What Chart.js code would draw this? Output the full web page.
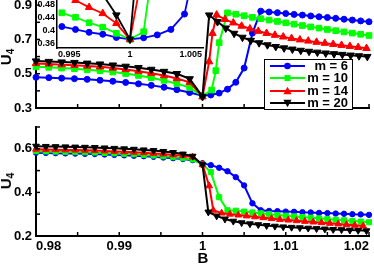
<!DOCTYPE html>
<html><head><meta charset="utf-8">
<script src="https://cdn.jsdelivr.net/npm/chart.js@4.4.1/dist/chart.umd.min.js"></script>
<style>
html,body{margin:0;padding:0;background:#fff;}
#wrap{position:relative;width:374px;height:264px;overflow:hidden;font-family:"Liberation Sans",Arial,Helvetica,sans-serif;font-weight:bold;color:#000;background:#fff;}
canvas{position:absolute;}
.ylab{position:absolute;font-size:15px;white-space:nowrap;transform:translate(-50%,-50%) rotate(-90deg);line-height:15px;}
.ylab sub{font-size:10px;vertical-align:-3px;}
#xlab{position:absolute;font-size:15px;transform:translate(-50%,-50%);line-height:15px;}
#legend{position:absolute;left:264px;top:59px;width:87px;height:49px;border:1px solid #000;background:#fff;}
#legend .row{position:absolute;left:0;width:87px;height:12px;}
#legend svg{position:absolute;left:5px;top:0;}
#legend span{position:absolute;right:4px;top:0;font-size:13px;line-height:12px;}
</style></head>
<body><div id="wrap">
<canvas id="cTop" width="374" height="125" style="left:0;top:0"></canvas>
<canvas id="cBot" width="374" height="144" style="left:0;top:120px"></canvas>
<canvas id="cIns" width="180" height="62" style="left:30px;top:0"></canvas>
<div id="legend"></div>
<div class="ylab" style="left:8px;top:57px">U<sub>4</sub></div>
<div class="ylab" style="left:8px;top:181px">U<sub>4</sub></div>
<div id="xlab" style="left:203px;top:257px">B</div>
</div>
<script>
// ---------- series labels ----------
const seriesLabels = ['m = 6', 'm = 10', 'm = 14', 'm = 20'];

// ---------- tick values / labels ----------
const xTicks = [0.98, 0.985, 0.99, 0.995, 1.0, 1.005, 1.01, 1.015, 1.02];
const xTickLabels = ['0.98', '', '0.99', '', '1', '', '1.01', '', '1.02'];
const topYTicks = [0.3, 0.4, 0.5, 0.6, 0.7, 0.8, 0.9];
const topYLabels = ['0.3', '', '0.5', '', '0.7', '', '0.9'];
const botYTicks = [0.2, 0.3, 0.4, 0.5, 0.6, 0.7];
const botYLabels = ['0.2', '', '0.4', '', '0.6', ''];
const insXTicks = [0.995, 1.0, 1.005];
const insXLabels = ['0.995', '1', '1.005'];
const insYTicks = [0.36, 0.40, 0.44, 0.48];
const insYLabels = ['0.36', '0.4', '0.44', '0.48'];

// ---------- top panel data ----------
const topBLeft = [0.98, 0.98154, 0.98308, 0.98462, 0.98615, 0.98769, 0.98923, 0.99077, 0.99231, 0.99385, 0.99538, 0.99692, 0.99846];
const top6B = [1.000, 1.001, 1.002, 1.003, 1.004, 1.005, 1.006, 1.007, 1.008, 1.009, 1.010, 1.011, 1.012, 1.013, 1.014, 1.015, 1.016, 1.017, 1.018, 1.019, 1.020];
const top6U = [0.479, 0.477, 0.474, 0.471, 0.467, 0.462, 0.456, 0.449, 0.441, 0.432, 0.421, 0.407, 0.390,
  0.372, 0.376, 0.387, 0.410, 0.450, 0.533, 0.737, 0.865, 0.860, 0.856, 0.851, 0.846, 0.842, 0.837, 0.832, 0.828, 0.823, 0.818, 0.813, 0.808, 0.803];
const top10B = [1.000, 1.0011, 1.0016, 1.0020, 1.003, 1.004, 1.005, 1.006, 1.007, 1.008, 1.009, 1.010, 1.011, 1.012, 1.013, 1.014, 1.015, 1.016, 1.017, 1.018, 1.019, 1.020];
const top10U = [0.540, 0.537, 0.533, 0.529, 0.523, 0.517, 0.510, 0.501, 0.490, 0.477, 0.461, 0.442, 0.419,
  0.369, 0.405, 0.518, 0.681, 0.855, 0.847, 0.838, 0.829, 0.821, 0.813, 0.805, 0.797, 0.789, 0.781, 0.773, 0.766, 0.758, 0.751, 0.744, 0.737, 0.730, 0.723];
const top14B = [1.000, 1.0008, 1.0012, 1.0017, 1.0027, 1.0037, 1.0047, 1.0057, 1.0067, 1.0077, 1.0087, 1.0097, 1.0107, 1.0117, 1.0127, 1.0137, 1.0147, 1.0157, 1.0167, 1.0177, 1.0187, 1.0197];
const top14U = [0.560, 0.557, 0.553, 0.549, 0.545, 0.540, 0.533, 0.525, 0.515, 0.503, 0.489, 0.472, 0.450,
  0.366, 0.570, 0.736, 0.843, 0.817, 0.797, 0.778, 0.762, 0.748, 0.736, 0.725, 0.715, 0.706, 0.698, 0.691, 0.684, 0.678, 0.672, 0.666, 0.660, 0.654, 0.648];
const top20B = [1.000, 1.0008, 1.0018, 1.0028, 1.0038, 1.0048, 1.0058, 1.0068, 1.0078, 1.0088, 1.0098, 1.0108, 1.0118, 1.0128, 1.0138, 1.0148, 1.0158, 1.0168, 1.0178, 1.0188, 1.0198];
const top20U = [0.574, 0.571, 0.568, 0.565, 0.561, 0.556, 0.550, 0.543, 0.535, 0.525, 0.513, 0.500, 0.470,
  0.366, 0.842, 0.803, 0.766, 0.735, 0.712, 0.694, 0.680, 0.668, 0.658, 0.650, 0.643, 0.636, 0.630, 0.625, 0.620, 0.616, 0.612, 0.608, 0.604, 0.600];

// ---------- inset data ----------
const ins6B = [0.9944, 0.99552, 0.99664, 0.99776, 0.99888, 1.0, 1.00112, 1.00224, 1.00336, 1.00448, 1.0056];
const ins6U = [0.412, 0.403, 0.394, 0.388, 0.378, 0.372, 0.377, 0.386, 0.403, 0.451, 0.65];
const ins10B = [0.9944, 0.99552, 0.99664, 0.99776, 0.99888, 1.0, 1.00112, 1.00224];
const ins10U = [0.455, 0.441, 0.424, 0.410, 0.391, 0.372, 0.396, 0.70];
const ins14B = [0.9944, 0.99552, 0.99664, 0.99776, 0.99888, 1.0, 1.00112];
const ins14U = [0.512, 0.494, 0.472, 0.453, 0.422, 0.372, 0.60];
const ins20B = [0.99664, 0.99776, 0.99888, 1.0, 1.00112];
const ins20U = [0.57, 0.512, 0.448, 0.372, 0.84];

// ---------- bottom panel data ----------
const botBLeft = [0.98, 0.98118, 0.98235, 0.98353, 0.98471, 0.98588, 0.98706, 0.98824, 0.98941, 0.99059, 0.99176, 0.99294, 0.99412, 0.99529, 0.99647, 0.99765, 0.99882];
const bot6B = [1.000, 1.001, 1.002, 1.003, 1.004, 1.005, 1.006, 1.007, 1.008, 1.009, 1.010, 1.011, 1.012, 1.013, 1.014, 1.015, 1.016, 1.017, 1.018, 1.019, 1.020];
const bot6U = [0.582, 0.581, 0.580, 0.579, 0.578, 0.577, 0.576, 0.574, 0.572, 0.570, 0.568, 0.566, 0.563, 0.560, 0.557, 0.553, 0.548,
  0.534, 0.525, 0.513, 0.497, 0.470, 0.432, 0.350, 0.318, 0.315, 0.314, 0.312, 0.311, 0.309, 0.308, 0.306, 0.305, 0.303, 0.302, 0.300, 0.299, 0.297];
const bot10B = [1.000, 1.001, 1.002, 1.003, 1.004, 1.005, 1.006, 1.007, 1.008, 1.009, 1.010, 1.011, 1.012, 1.013, 1.014, 1.015, 1.016, 1.017, 1.018, 1.019, 1.020];
const bot10U = [0.589, 0.588, 0.587, 0.586, 0.585, 0.584, 0.583, 0.581, 0.579, 0.577, 0.575, 0.572, 0.569, 0.566, 0.562, 0.557, 0.551,
  0.528, 0.493, 0.378, 0.318, 0.316, 0.312, 0.308, 0.304, 0.300, 0.296, 0.293, 0.290, 0.287, 0.284, 0.281, 0.278, 0.275, 0.272, 0.269, 0.266, 0.263];
const bot14B = [1.000, 1.0008, 1.0013, 1.0023, 1.0033, 1.0043, 1.0053, 1.0063, 1.0073, 1.0083, 1.0093, 1.0103, 1.0113, 1.0123, 1.0133, 1.0143, 1.0153, 1.0163, 1.0173, 1.0183, 1.0193];
const bot14U = [0.598, 0.597, 0.596, 0.595, 0.594, 0.593, 0.592, 0.590, 0.588, 0.586, 0.584, 0.582, 0.579, 0.576, 0.572, 0.568, 0.562,
  0.527, 0.430, 0.318, 0.305, 0.300, 0.296, 0.292, 0.288, 0.284, 0.280, 0.276, 0.273, 0.270, 0.267, 0.264, 0.261, 0.258, 0.255, 0.252, 0.249, 0.246];
const bot20B = [1.000, 1.0007, 1.0017, 1.0027, 1.0037, 1.0047, 1.0057, 1.0067, 1.0077, 1.0087, 1.0097, 1.0107, 1.0117, 1.0127, 1.0137, 1.0147, 1.0157, 1.0167, 1.0177, 1.0187, 1.0197];
const bot20U = [0.612, 0.611, 0.610, 0.609, 0.608, 0.607, 0.606, 0.604, 0.602, 0.600, 0.598, 0.595, 0.592, 0.588, 0.583, 0.576, 0.566,
  0.527, 0.310, 0.292, 0.278, 0.268, 0.261, 0.256, 0.252, 0.248, 0.245, 0.242, 0.240, 0.238, 0.236, 0.234, 0.232, 0.230, 0.229, 0.227, 0.226, 0.224];

// ---------- styling ----------
const FONT = "'Liberation Sans', Arial, Helvetica, sans-serif";
const colors = ['#0000ff', '#00ff00', '#ff0000', '#000000'];
const styles = ['circle', 'rect', 'triangle', 'triangle'];
const rots = [0, 0, 0, 180];
const orders = [3, 2, 1, 0];

function pts(B, U) { return B.map((b, i) => ({x: b, y: U[i]})); }
function series(i, B, U, sizes, lw, clip) {
  return {
    label: seriesLabels[i], data: pts(B, U),
    borderColor: colors[i], backgroundColor: colors[i],
    pointBackgroundColor: colors[i], pointBorderColor: colors[i],
    pointStyle: styles[i], pointRadius: sizes[i], pointHoverRadius: sizes[i],
    pointBorderWidth: 1, pointRotation: rots[i], borderWidth: lw,
    showLine: true, tension: 0, order: orders[i], clip: clip
  };
}
function axis(o) {
  return {
    type: 'linear', min: o.min, max: o.max, position: o.pos,
    grid: {display: false, drawTicks: false},
    border: {display: true, color: '#000', width: o.bw},
    ticks: {display: o.show, autoSkip: false, maxRotation: 0, minRotation: 0, padding: o.pad,
      color: '#000', align: o.align || 'center',
      font: {family: FONT, size: o.fs, weight: 'bold'},
      callback: (v, i) => o.labels[i]},
    afterBuildTicks: s => { s.ticks = o.ticks.map(v => ({value: v})); },
    afterFit: s => {
      if (o.pos === 'left') s.width = o.size; else s.height = o.size;
      s.paddingLeft = 0; s.paddingRight = 0; s.paddingTop = 0; s.paddingBottom = 0;
    }
  };
}
const inwardTicks = {
  id: 'inwardTicks',
  afterDatasetsDraw(chart, args, opts) {
    const ctx = chart.ctx, ca = chart.chartArea;
    const xs = chart.scales.x, ys = chart.scales.y;
    ctx.save(); ctx.strokeStyle = '#000'; ctx.lineWidth = opts.width;
    (opts.x || []).forEach(v => { const p = xs.getPixelForValue(v); ctx.beginPath(); ctx.moveTo(p, ca.bottom); ctx.lineTo(p, ca.bottom - opts.len); ctx.stroke(); });
    (opts.y || []).forEach(v => { const p = ys.getPixelForValue(v); ctx.beginPath(); ctx.moveTo(ca.left, p); ctx.lineTo(ca.left + opts.len, p); ctx.stroke(); });
    ctx.restore();
  }
};
const whiteArea = {
  id: 'whiteArea',
  beforeDraw(chart) {
    const ctx = chart.ctx, ca = chart.chartArea;
    ctx.save(); ctx.fillStyle = '#fff'; ctx.fillRect(ca.left, ca.top, ca.right - ca.left, ca.bottom - ca.top); ctx.restore();
  }
};
function baseOpts(pad, scales, tickOpts) {
  return {
    responsive: false, animation: false, devicePixelRatio: 1,
    layout: {padding: pad, autoPadding: false},
    plugins: {legend: {display: false}, tooltip: {enabled: false}, inwardTicks: tickOpts},
    scales: scales
  };
}

const mainClip = {left: 4, right: 6, top: 0, bottom: 0};
const topSizes = [3, 4, 4.3, 4.3];
const botSizes = [2.7, 3.6, 3.9, 3.9];

// ---------- top panel ----------
new Chart(document.getElementById('cTop'), {
  type: 'scatter',
  data: {datasets: [
    series(0, topBLeft.concat(top6B), top6U, topSizes, 2, mainClip),
    series(1, topBLeft.concat(top10B), top10U, topSizes, 2, mainClip),
    series(2, topBLeft.concat(top14B), top14U, topSizes, 2, mainClip),
    series(3, topBLeft.concat(top20B), top20U, topSizes, 2, mainClip)
  ]},
  options: baseOpts({left: 0, right: 5, top: 0, bottom: 0}, {
    x: axis({min: 0.98, max: 1.02, pos: 'bottom', bw: 2, show: false, pad: 0, fs: 13, labels: xTickLabels, ticks: xTicks, size: 17}),
    y: axis({min: 0.3, max: 0.93, pos: 'left', bw: 2, show: true, pad: 4, fs: 13, labels: topYLabels, ticks: topYTicks, size: 36})
  }, {x: xTicks, y: topYTicks, len: 4, width: 1.5}),
  plugins: [inwardTicks]
});

// ---------- bottom panel ----------
new Chart(document.getElementById('cBot'), {
  type: 'scatter',
  data: {datasets: [
    series(0, botBLeft.concat(bot6B), bot6U, botSizes, 2, mainClip),
    series(1, botBLeft.concat(bot10B), bot10U, botSizes, 2, mainClip),
    series(2, botBLeft.concat(bot14B), bot14U, botSizes, 2, mainClip),
    series(3, botBLeft.concat(bot20B), bot20U, botSizes, 2, mainClip)
  ]},
  options: baseOpts({left: 0, right: 5, top: 7, bottom: 0}, {
    x: axis({min: 0.98, max: 1.02, pos: 'bottom', bw: 2, show: true, pad: 3, fs: 13, align: 'inner', labels: xTickLabels, ticks: xTicks, size: 28}),
    y: axis({min: 0.2, max: 0.7, pos: 'left', bw: 2, show: true, pad: 4, fs: 13, labels: botYLabels, ticks: botYTicks, size: 36})
  }, {x: xTicks, y: botYTicks, len: 4, width: 1.5}),
  plugins: [inwardTicks]
});

// ---------- inset ----------
new Chart(document.getElementById('cIns'), {
  type: 'scatter',
  data: {datasets: [
    series(0, ins6B, ins6U, topSizes, 1.8, 0),
    series(1, ins10B, ins10U, topSizes, 1.8, 0),
    series(2, ins14B, ins14U, topSizes, 1.8, 0),
    series(3, ins20B, ins20U, topSizes, 1.8, 0)
  ]},
  options: baseOpts({left: 0, right: 7, top: 0, bottom: 0}, {
    x: axis({min: 0.994, max: 1.006, pos: 'bottom', bw: 1.5, show: true, pad: 1, fs: 9, labels: insXLabels, ticks: insXTicks, size: 14}),
    y: axis({min: 0.345, max: 0.495, pos: 'left', bw: 1.5, show: true, pad: 2, fs: 9, labels: insYLabels, ticks: insYTicks, size: 27})
  }, {x: [], y: [], len: 0, width: 1}),
  plugins: [whiteArea, inwardTicks]
});

// ---------- legend (HTML, from the series definitions) ----------
(function () {
  const lg = document.getElementById('legend');
  const rowTops = [0, 12.4, 24.8, 37.2];
  const marker = [
    c => `<circle cx="17.5" cy="6" r="3.3" fill="${c}"/>`,
    c => `<rect x="14.5" y="3" width="6" height="6" fill="${c}"/>`,
    c => `<polygon points="17.5,1.8 21.6,9.2 13.4,9.2" fill="${c}"/>`,
    c => `<polygon points="17.5,10.2 21.6,2.8 13.4,2.8" fill="${c}"/>`
  ];
  seriesLabels.forEach((lab, i) => {
    const row = document.createElement('div');
    row.className = 'row';
    row.style.top = rowTops[i] + 'px';
    row.innerHTML = `<svg width="40" height="12"><line x1="0" y1="6" x2="35" y2="6" stroke="${colors[i]}" stroke-width="2"/>${marker[i](colors[i])}</svg><span>${lab}</span>`;
    lg.appendChild(row);
  });
})();
</script>
</body></html>
